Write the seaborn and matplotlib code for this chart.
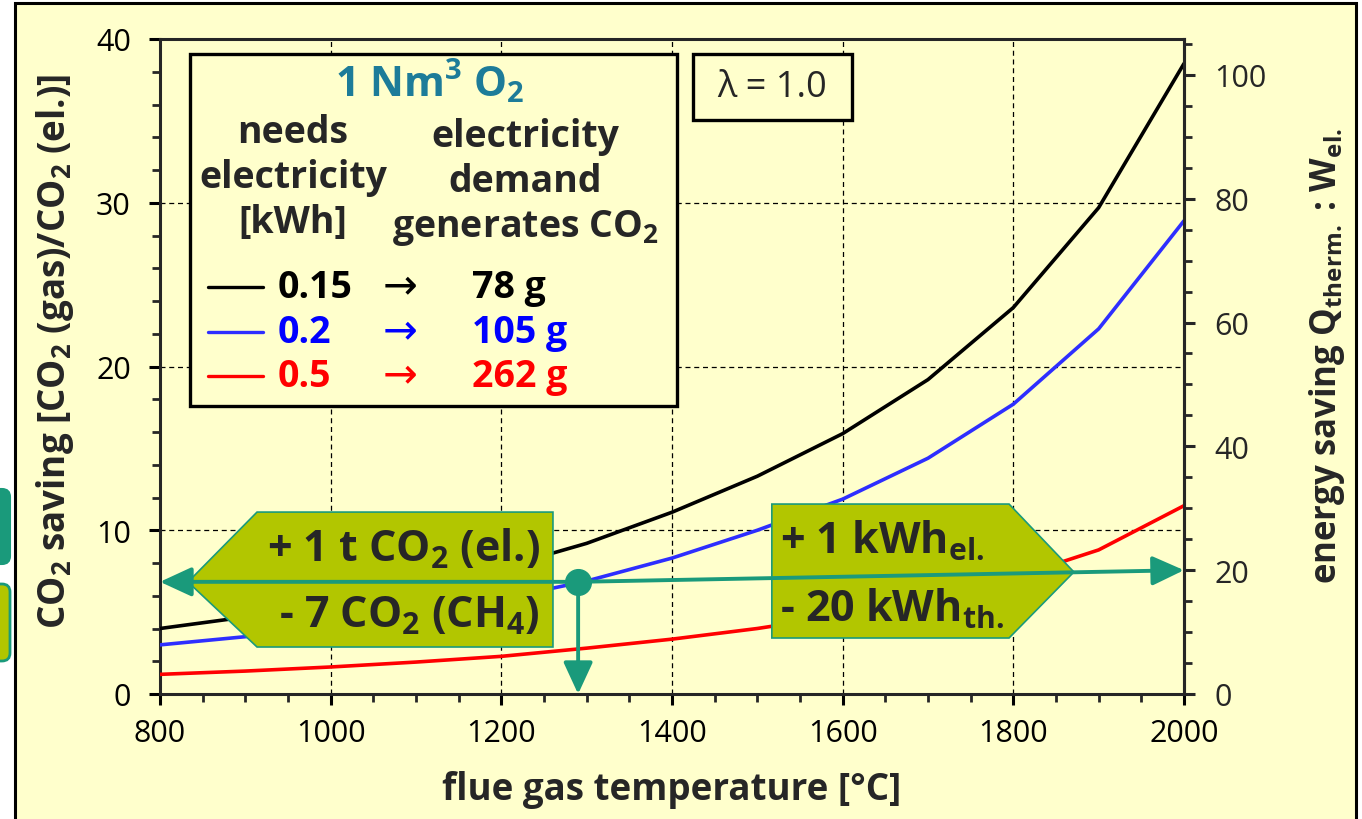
import matplotlib
matplotlib.use("Agg")
import matplotlib.pyplot as plt
import numpy as np
import pandas as pd
import seaborn as sns
from matplotlib.patches import Polygon, Rectangle, FancyBboxPatch, ConnectionPatch
from matplotlib.lines import Line2D
from matplotlib.ticker import MultipleLocator
from matplotlib.transforms import IdentityTransform

# ---- data -------------------------------------------------------------
temperature = [800, 900, 1000, 1100, 1200, 1300, 1400, 1500, 1600, 1700, 1800, 1900, 2000]
saving_015 = [4.0, 4.7, 5.5, 6.5, 7.7, 9.2, 11.1, 13.3, 15.9, 19.2, 23.6, 29.7, 38.5]
saving_020 = [3.0, 3.5, 4.1, 4.9, 5.8, 6.9, 8.3, 10.0, 11.9, 14.4, 17.7, 22.3, 28.9]
saving_050 = [1.2, 1.4, 1.65, 1.95, 2.3, 2.8, 3.35, 4.0, 4.8, 5.8, 7.1, 8.8, 11.5]

electricity_kwh = ["0.15", "0.2", "0.5"]
co2_grams = ["78 g", "105 g", "262 g"]
line_colors = ["#000000", "#2E2EFF", "#FF0000"]
text_colors = ["#000000", "#0000FF", "#FF0000"]

# operating point used by the callout arrows
point_temp = 1290
point_saving = 6.85
energy_ratio = 20
energy_axis_top = 105.8

# ---- style ------------------------------------------------------------
sns.set_style("ticks")
plt.rcParams["font.family"] = ["Open Sans", "DejaVu Sans"]
plt.rcParams["mathtext.default"] = "regular"

YELLOW = "#FFFFCC"
TEAL = "#1A9A7B"
OLIVE = "#B2C600"
TITLE = "#1D7C99"

fig = plt.figure(figsize=(13.62, 8.20), dpi=100)
fig.patch.set_facecolor("white")

# slide frame and clipped side buttons
fig.add_artist(Rectangle((15, -30), 1341, 846, transform=IdentityTransform(),
                         facecolor=YELLOW, edgecolor="black", lw=2.2, zorder=-10))
fig.add_artist(FancyBboxPatch((-20, 255), 30, 75, boxstyle="round,pad=0,rounding_size=8",
                              transform=IdentityTransform(), facecolor=TEAL,
                              edgecolor=TEAL, lw=1.5, zorder=-5))
fig.add_artist(FancyBboxPatch((-20, 158), 30, 77, boxstyle="round,pad=0,rounding_size=8",
                              transform=IdentityTransform(), facecolor=OLIVE,
                              edgecolor=TEAL, lw=2.0, zorder=-5))

ax = fig.add_axes([160 / 1362, 125 / 820, 1024 / 1362, 655 / 820])
ax.set_facecolor("none")

df = pd.DataFrame({
    "temperature": temperature * 3,
    "saving": saving_015 + saving_020 + saving_050,
    "kwh": [electricity_kwh[0]] * len(temperature) + [electricity_kwh[1]] * len(temperature)
           + [electricity_kwh[2]] * len(temperature),
})
sns.lineplot(data=df, x="temperature", y="saving", hue="kwh", hue_order=electricity_kwh,
             palette=line_colors, linewidth=2.6, legend=False, ax=ax, zorder=3)

ax.set_xlim(800, 2000)
ax.set_ylim(0, 40)
ax.xaxis.set_major_locator(MultipleLocator(200))
ax.xaxis.set_minor_locator(MultipleLocator(50))
ax.yaxis.set_major_locator(MultipleLocator(10))
ax.yaxis.set_minor_locator(MultipleLocator(2))
ax.grid(True, which="major", color="black", linestyle=(0, (4, 3)), linewidth=0.9)
for s in ax.spines.values():
    s.set_linewidth(2.2)
ax.tick_params(axis="both", which="major", direction="out", length=8, width=2.2,
               labelsize=22, colors="black")
ax.tick_params(axis="both", which="minor", direction="out", length=6, width=2.0)
ax.tick_params(axis="y", which="major", pad=13)
ax.tick_params(axis="x", which="major", pad=9)

ax.set_xlabel("flue gas temperature [°C]", fontsize=26.5, fontweight="bold")
ax.xaxis.set_label_coords(0.5, -0.145)
ax.xaxis.label.set_va("center")
ax.set_ylabel("CO$_2$ saving [CO$_2$ (gas)/CO$_2$ (el.)]", fontsize=26.5, fontweight="bold")
ax.yaxis.set_label_coords(-0.1025, 0.525)
ax.yaxis.label.set_va("center")

# second axis: energy saving ratio
ax2 = ax.twinx()
ax2.set_ylim(0, energy_axis_top)
ax2.yaxis.set_major_locator(MultipleLocator(20))
ax2.yaxis.set_minor_locator(MultipleLocator(5))
for name, s in ax2.spines.items():
    s.set_visible(name == "right")
    s.set_linewidth(2.2)
ax2.tick_params(axis="y", which="major", direction="out", length=8, width=2.2,
                labelsize=22, pad=14)
ax2.tick_params(axis="y", which="minor", direction="out", length=6, width=2.0)
ax2.set_ylabel("energy saving Q$_{therm.}$ : W$_{el.}$", fontsize=25, fontweight="bold")
ax2.yaxis.set_label_coords(1.1396, 0.5176)
ax2.yaxis.label.set_va("center")
ax2.yaxis.label.set_rotation(90)

# ---- legend table -----------------------------------------------------
ax.add_patch(Rectangle((0.0293, 0.4397), 0.4756, 0.5373, transform=ax.transAxes,
                       facecolor=YELLOW, edgecolor="black", lw=2.4, zorder=5))
tkw = dict(transform=ax.transAxes, zorder=6, fontweight="bold", fontsize=27)
ax.text(0.2637, 0.913, "1 Nm$^3$ O$_2$", ha="center", va="baseline", color=TITLE,
        transform=ax.transAxes, zorder=6, fontweight="bold", fontsize=30)
for y, s in zip([0.8427, 0.7740, 0.7053], ["needs", "electricity", "[kWh]"]):
    ax.text(0.1299, y, s, ha="center", va="baseline", **tkw)
for y, s in zip([0.8366, 0.7679, 0.6992], ["electricity", "demand", "generates CO$_2$"]):
    ax.text(0.3564, y, s, ha="center", va="baseline", **tkw)
for i, (yl, yb) in enumerate(zip([0.6214, 0.5527, 0.4855], [0.6061, 0.5374, 0.4702])):
    ax.add_line(Line2D([0.0469, 0.1006], [yl, yl], transform=ax.transAxes,
                       color=line_colors[i], lw=2.4, zorder=6))
    ax.text(0.1152, yb, electricity_kwh[i], ha="left", va="baseline", color=text_colors[i], **tkw)
    ax.text(0.2178, yb, "→", ha="left", va="baseline", color=text_colors[i],
            transform=ax.transAxes, zorder=6, fontsize=30, family=["DejaVu Sans"])
    ax.text(0.3047, yb, co2_grams[i], ha="left", va="baseline", color=text_colors[i], **tkw)

# lambda box
ax.add_patch(Rectangle((0.5205, 0.876), 0.1553, 0.101, transform=ax.transAxes,
                       facecolor=YELLOW, edgecolor="black", lw=2.4, zorder=5))
ax.text(0.5981, 0.9267, "λ = 1.0", ha="center", va="center", fontsize=26,
        transform=ax.transAxes, zorder=6)

# ---- callouts ---------------------------------------------------------
ax.add_patch(Polygon([(832.8, 6.84), (913.7, 11.11), (1260.5, 11.11), (1260.5, 2.87),
                      (913.7, 2.87)], closed=True, facecolor=OLIVE, edgecolor=TEAL,
                     lw=1.2, zorder=7))
ax.text(1245, 8.12, "+ 1 t CO$_2$ (el.)", ha="right", va="baseline", fontsize=31,
        fontweight="bold", zorder=8)
ax.text(1245, 4.09, "- 7 CO$_2$ (CH$_4$)", ha="right", va="baseline", fontsize=31,
        fontweight="bold", zorder=8)

ax.add_patch(Polygon([(1517, 11.6), (1795, 11.6), (1871, 7.45), (1795, 3.42),
                      (1517, 3.42)], closed=True, facecolor=OLIVE, edgecolor=TEAL,
                     lw=1.2, zorder=7))
ax.text(1527, 8.61, "+ 1 kWh$_{el.}$", ha="left", va="baseline", fontsize=31,
        fontweight="bold", zorder=8)
ax.text(1527, 4.46, "- 20 kWh$_{th.}$", ha="left", va="baseline", fontsize=31,
        fontweight="bold", zorder=8)

arrow_style = "-|>,head_length=1.95,head_width=0.9"
for xyB, coordsB in [((800, point_saving), ax.transData),
                     ((point_temp, 0), ax.transData),
                     ((2000, energy_ratio), ax2.transData)]:
    con = ConnectionPatch(xyA=(point_temp, point_saving), coordsA=ax.transData,
                          xyB=xyB, coordsB=coordsB, arrowstyle=arrow_style,
                          mutation_scale=10, color=TEAL, lw=2.8,
                          shrinkA=0, shrinkB=0, zorder=9)
    ax2.add_artist(con)
ax2.plot([point_temp], [point_saving * energy_axis_top / 40], marker="o", markersize=18.5,
         color=TEAL, zorder=10, clip_on=False)

fig.savefig("out.png", dpi=100, facecolor=fig.get_facecolor())
